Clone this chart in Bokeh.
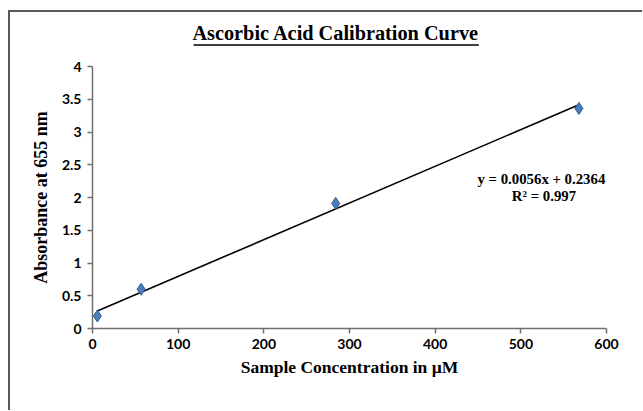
from bokeh.plotting import figure
from bokeh.layouts import column
from bokeh.models import Label, Range1d, FixedTicker
from bokeh.embed import file_html
from bokeh.resources import INLINE

# Data
concentration_uM = [5.68, 56.78, 283.9, 567.8]
absorbance = [0.19, 0.60, 1.91, 3.36]
slope = 0.0056
intercept = 0.2364
r_squared = 0.997
x_ticks = [0, 100, 200, 300, 400, 500, 600]
y_ticks = [0, 0.5, 1, 1.5, 2, 2.5, 3, 3.5, 4]

title_text = "Ascorbic Acid Calibration Curve"
x_title = "Sample Concentration in \u00b5M"
y_title = "Absorbance at 655 nm"

W = 632

# ---- title strip ----
top = figure(width=W, height=44, output_backend="svg", toolbar_location=None,
             x_range=Range1d(0, 600), y_range=Range1d(44, 0),
             x_axis_type=None, y_axis_type=None,
             min_border_left=82, min_border_right=36, min_border_top=0,
             min_border_bottom=0)
top.outline_line_color = None
top.grid.grid_line_color = None
top.add_layout(Label(x=284, y=20.5, text=title_text, text_align="center",
                     text_baseline="middle", text_font="Liberation Serif",
                     text_font_style="bold", text_font_size="20.3px",
                     text_color="black"))
top.segment(x0=[118], y0=[32.5], x1=[451], y1=[32.5], line_color="black", line_width=1.5)

# ---- main chart ----
p = figure(width=W, height=354, output_backend="svg", toolbar_location=None,
           x_range=Range1d(0, 600), y_range=Range1d(0, 4),
           min_border_left=82, min_border_right=36, min_border_top=10,
           min_border_bottom=82)
p.outline_line_color = None
p.grid.grid_line_color = None

for ax in (p.xaxis[0], p.yaxis[0]):
    ax.axis_line_color = "#707070"
    ax.axis_line_width = 1.5
    ax.major_tick_line_color = "#707070"
    ax.major_tick_line_width = 1.5
    ax.major_tick_out = 5
    ax.major_tick_in = 0
    ax.minor_tick_line_color = None
    ax.major_label_text_font = "Lato"
    ax.major_label_text_font_style = "bold"
    ax.major_label_text_font_size = "14px"
    ax.major_label_text_color = "#000000"
    ax.axis_label_text_font = "Liberation Serif"
    ax.axis_label_text_font_style = "bold"
    ax.axis_label_text_font_size = "17.5px"
    ax.axis_label_text_color = "#000000"

p.yaxis.axis_label_text_font_size = "18px"
p.xaxis.ticker = FixedTicker(ticks=x_ticks)
p.yaxis.ticker = FixedTicker(ticks=y_ticks)
p.xaxis.axis_label = x_title
p.yaxis.axis_label = y_title
p.xaxis.major_label_standoff = 5
p.xaxis.axis_label_standoff = 5
p.yaxis.major_label_standoff = 6
p.yaxis.axis_label_standoff = 8

# Trendline
tx = [concentration_uM[0], concentration_uM[-1]]
ty = [slope * v + intercept for v in tx]
p.line(tx, ty, line_color="black", line_width=1.6)

# Points
p.scatter(concentration_uM, absorbance, marker="diamond", size=12,
          fill_color="#4a7ebb", line_color="#2c5a8f", line_width=1)

# Equation
p.add_layout(Label(x=524, y=2.29, text="y = %.4fx + %.4f" % (slope, intercept),
                   text_align="center", text_baseline="middle",
                   text_font="Liberation Serif", text_font_style="bold",
                   text_font_size="14.8px", text_color="black"))
p.add_layout(Label(x=527, y=2.03, text="R\u00b2 = " + str(r_squared), text_align="center",
                   text_baseline="middle", text_font="Liberation Serif",
                   text_font_style="bold", text_font_size="14.8px", text_color="black"))

layout = column(top, p, spacing=0)
layout.styles = {"margin-left": "8px", "margin-top": "10px",
                 "border-left": "2px solid #5a5a5a", "border-top": "2px solid #5a5a5a"}

open("out.html", "w").write(file_html(layout, INLINE))
